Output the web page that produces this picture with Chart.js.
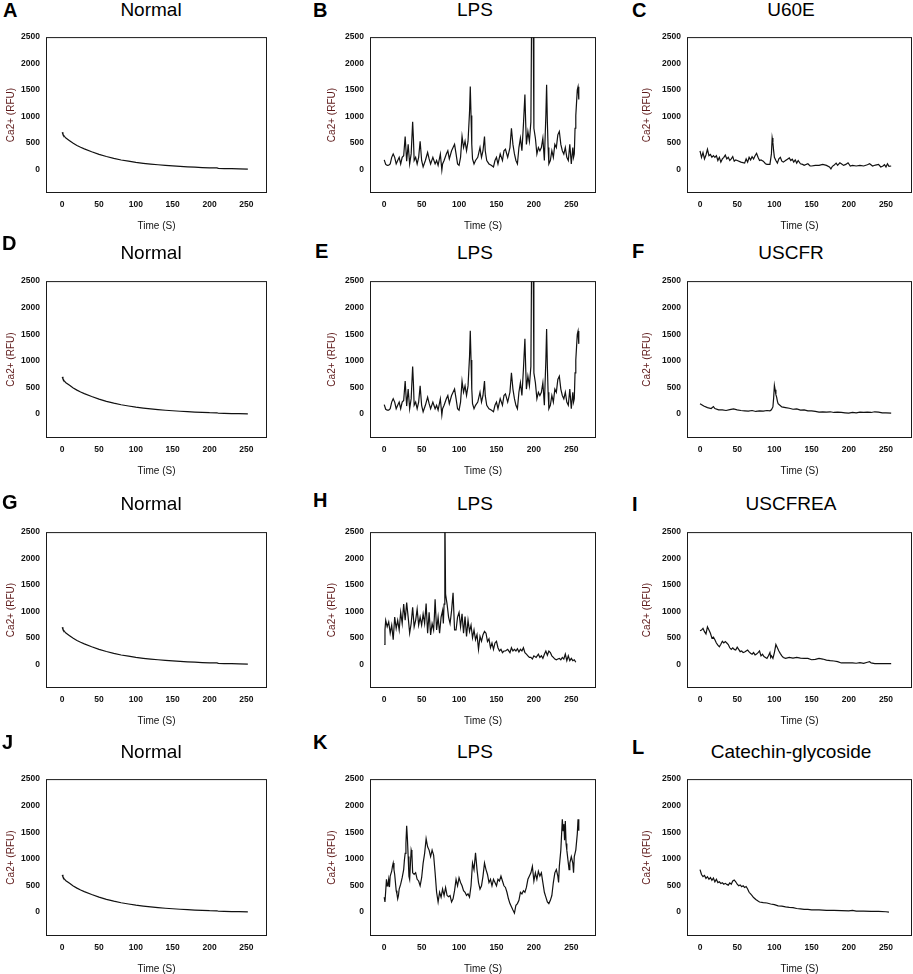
<!DOCTYPE html>
<html>
<head>
<meta charset="utf-8">
<script src="https://cdn.jsdelivr.net/npm/chart.js@4.4.0/dist/chart.umd.min.js"></script>
<style>
  html, body { margin: 0; padding: 0; background: #fff; overflow: hidden; width: 913px; height: 974px; }
  canvas { position: absolute; }
  .letter { position: absolute; font-family: "Liberation Sans", Arial, sans-serif; font-weight: bold; font-size: 20px; line-height: 20px; color: #000; }
  .title { position: absolute; font-family: "Liberation Sans", Arial, sans-serif; font-size: 19px; line-height: 19px; color: #000; transform: translateX(-50%); white-space: nowrap; }
</style>
</head>
<body>
<script>
// tick labels
const xTicks = [0, 50, 100, 150, 200, 250];
const yTicks = [0, 500, 1000, 1500, 2000, 2500];

// Normal (A, D, G, J look the same)
const normalTime = [0, 1, 3, 5, 10, 15, 20, 25, 30, 40, 50, 60, 70, 80, 90, 100, 110, 120, 130, 140, 150, 160, 170, 180, 190, 200, 210, 212, 220, 230, 240, 252];
const normalCa = [700, 660, 620, 590, 540, 490, 450, 415, 385, 330, 280, 240, 205, 175, 152, 130, 112, 97, 85, 72, 62, 53, 45, 38, 32, 26, 24, 15, 12, 10, 8, 3];

// LPS (B and E are the same trace)
const lpsTime = [0, 2, 4, 6, 8, 10, 12, 14, 16, 18, 20, 22, 24, 26, 28, 30, 32, 34, 36, 38, 39, 40, 42, 44, 46, 48, 50, 52, 55, 58, 60, 62, 65, 68, 70, 72, 75, 77, 78, 80, 83, 85, 87, 90, 92, 94, 96, 98, 100, 102, 104, 106, 108, 110, 112, 114, 115, 116, 117, 118, 120, 122, 125, 128, 130, 132, 134, 135, 137, 140, 143, 146, 148, 150, 152, 155, 158, 160, 162, 165, 168, 170, 172, 174, 176, 178, 180, 182, 184, 186, 188, 189, 190, 192, 194, 196, 197, 199, 200, 202, 204, 206, 208, 210, 212, 214, 216, 217, 218, 219, 220, 222, 224, 226, 228, 230, 232, 234, 236, 238, 240, 242, 244, 246, 248, 250, 252, 253, 254, 255, 256, 257, 258, 259, 260];
const lpsCa = [177, 90, 73, 75, 100, 225, 290, 225, 100, 165, 225, 100, 225, 256, 620, 150, 470, 100, 290, 896, 590, 165, 225, 100, 225, 530, 165, 43, 165, 317, 195, 100, 225, 100, 165, 75, 287, -18, 100, 165, 287, 348, 195, 348, 410, 470, 290, 100, 73, 225, 620, 410, 530, 350, 530, 1080, 1567, 1018, 470, 195, 100, 165, 225, 410, 225, 350, 620, 350, 165, 100, 75, 43, 165, 225, 100, 290, 165, 348, 378, 225, 410, 775, 470, 290, 165, 100, 410, 590, 350, 835, 1415, 900, 470, 713, 530, 896, 3000, 3000, 775, 590, 287, 410, 348, 410, 590, 165, 1018, 1597, 896, 410, 100, 165, 350, 225, 470, 410, 650, 713, 470, 350, 287, 410, 225, 165, 470, 100, 410, 225, 290, 775, 1018, 1260, 1500, 1560, 1320];

// U60E
const u60eTime = [0, 2, 4, 6, 8, 10, 12, 14, 16, 18, 20, 22, 24, 26, 28, 30, 32, 34, 36, 38, 40, 42, 44, 46, 48, 50, 55, 60, 62, 64, 66, 68, 70, 72, 74, 76, 78, 80, 82, 85, 88, 90, 94, 96, 97, 98, 99, 100, 102, 104, 106, 108, 110, 112, 115, 118, 120, 122, 124, 126, 128, 130, 132, 135, 138, 140, 145, 148, 150, 155, 160, 165, 170, 174, 176, 178, 180, 183, 185, 188, 190, 193, 196, 199, 202, 205, 210, 215, 220, 225, 228, 232, 236, 240, 243, 246, 248, 250, 252, 254, 257];
const u60eCa = [348, 225, 317, 195, 270, 378, 256, 280, 225, 256, 225, 256, 165, 225, 134, 195, 225, 268, 195, 225, 165, 195, 238, 152, 177, 165, 134, 116, 195, 134, 225, 177, 238, 195, 256, 300, 225, 165, 177, 152, 104, 91, 91, 290, 590, 500, 348, 225, 165, 116, 195, 225, 152, 134, 165, 195, 213, 165, 189, 134, 177, 116, 165, 104, 91, 73, 104, 61, 61, 73, 73, 91, 73, 43, 6, 55, 73, 116, 73, 122, 104, 73, 91, 122, 61, 73, 61, 73, 61, 85, 104, 61, 79, 91, 43, 61, 85, 43, 104, 55, 61];

// USCFR
const uscfrTime = [0, 5, 10, 15, 18, 20, 25, 30, 35, 40, 45, 50, 55, 60, 65, 70, 75, 80, 85, 90, 94, 96, 98, 99, 100, 101, 102, 103, 104, 105, 107, 110, 115, 120, 125, 130, 135, 140, 145, 150, 155, 160, 165, 170, 175, 180, 185, 190, 195, 200, 205, 210, 215, 220, 225, 230, 235, 240, 245, 250, 257];
const uscfrCa = [195, 152, 122, 104, 140, 104, 79, 79, 67, 85, 98, 79, 67, 61, 55, 67, 49, 61, 55, 67, 61, 79, 134, 305, 537, 457, 366, 317, 244, 195, 171, 134, 122, 110, 91, 98, 73, 79, 61, 61, 49, 37, 43, 37, 43, 30, 37, 30, 24, 18, 30, 24, 37, 30, 37, 30, 43, 37, 24, 24, 18];

// LPS (H)
const lpsHTime = [0, 1, 2, 4, 6, 8, 10, 12, 14, 16, 18, 20, 22, 24, 26, 28, 30, 32, 34, 36, 38, 40, 42, 44, 46, 48, 50, 52, 54, 56, 58, 60, 62, 64, 66, 67, 68, 70, 72, 74, 76, 78, 79, 80, 81, 82, 84, 86, 88, 90, 92, 94, 96, 98, 100, 102, 104, 106, 108, 110, 112, 114, 116, 118, 120, 122, 124, 126, 128, 130, 132, 134, 136, 138, 140, 142, 144, 146, 148, 150, 152, 154, 156, 158, 160, 162, 165, 168, 170, 172, 174, 176, 178, 180, 182, 184, 186, 188, 190, 192, 194, 196, 198, 200, 203, 206, 208, 210, 212, 214, 216, 218, 220, 222, 224, 226, 228, 230, 232, 234, 236, 238, 240, 242, 244, 246, 248, 250, 252, 254, 256, 258];
const lpsHCa = [373, 650, 831, 709, 800, 587, 740, 464, 892, 678, 831, 648, 984, 770, 1137, 831, 1167, 892, 587, 770, 1075, 709, 831, 1045, 740, 892, 740, 953, 770, 1150, 587, 984, 556, 770, 648, 892, 1229, 648, 892, 587, 892, 1015, 770, 1137, 3000, 1320, 1137, 892, 770, 1015, 1350, 648, 648, 892, 980, 709, 953, 587, 900, 526, 831, 620, 740, 500, 648, 464, 560, 281, 526, 434, 560, 620, 587, 430, 480, 312, 403, 281, 403, 434, 312, 250, 281, 220, 250, 250, 281, 220, 312, 250, 281, 250, 293, 232, 281, 250, 312, 220, 190, 159, 128, 128, 98, 159, 128, 190, 128, 159, 110, 190, 250, 171, 250, 220, 159, 128, 98, 85, 98, 110, 85, 128, 98, 190, 67, 159, 67, 110, 67, 85, 37];

// USCFREA
const uscfreaTime = [0, 2, 4, 6, 8, 10, 12, 14, 16, 18, 20, 22, 24, 26, 28, 30, 32, 34, 36, 38, 40, 42, 44, 46, 48, 50, 52, 54, 56, 58, 60, 62, 64, 66, 68, 70, 72, 74, 76, 78, 80, 82, 84, 86, 88, 90, 92, 94, 95, 96, 98, 100, 102, 104, 106, 108, 110, 112, 115, 120, 125, 130, 135, 140, 145, 150, 155, 160, 165, 170, 175, 180, 185, 190, 195, 200, 205, 210, 215, 220, 225, 228, 230, 235, 240, 245, 250, 257];
const uscfreaCa = [634, 646, 677, 616, 573, 707, 646, 585, 494, 512, 463, 402, 360, 329, 378, 433, 402, 427, 402, 372, 311, 280, 311, 280, 268, 323, 280, 238, 250, 220, 232, 250, 268, 232, 207, 189, 220, 177, 195, 220, 250, 159, 189, 146, 128, 110, 159, 220, 128, 159, 110, 220, 372, 311, 250, 201, 159, 128, 110, 128, 116, 128, 116, 110, 110, 85, 91, 110, 98, 79, 67, 61, 49, 24, 24, 24, 24, 18, 30, 18, 37, 49, 24, 12, 12, 12, 12, 12];

// LPS (K)
const lpsKTime = [0, 1, 2, 3, 4, 5, 6, 7, 8, 10, 11, 12, 13, 14, 15, 16, 17, 18, 19, 20, 22, 24, 26, 27, 28, 29, 30, 31, 32, 33, 34, 35, 36, 37, 38, 40, 42, 44, 46, 48, 50, 52, 54, 56, 58, 60, 62, 64, 66, 68, 70, 72, 74, 76, 78, 80, 82, 84, 86, 88, 90, 92, 94, 96, 98, 100, 102, 104, 106, 108, 110, 112, 114, 116, 118, 120, 122, 124, 126, 128, 130, 132, 134, 136, 138, 140, 142, 144, 146, 148, 150, 152, 154, 156, 158, 160, 162, 164, 166, 168, 170, 172, 174, 176, 178, 180, 182, 184, 186, 188, 190, 192, 194, 196, 198, 200, 202, 204, 206, 208, 210, 212, 214, 216, 218, 220, 222, 224, 226, 228, 230, 232, 233, 234, 236, 238, 239, 240, 241, 242, 243, 244, 246, 247, 248, 250, 252, 253, 254, 256, 258, 259, 260];
const lpsKCa = [280, 189, 402, 616, 494, 520, 616, 470, 677, 768, 860, 921, 800, 707, 555, 402, 341, 250, 311, 433, 524, 646, 799, 982, 1104, 1287, 1622, 1378, 1043, 677, 616, 900, 1165, 1100, 738, 707, 740, 616, 585, 494, 646, 921, 1104, 1378, 1226, 1165, 1043, 1165, 1073, 738, 372, 189, 372, 280, 433, 311, 463, 311, 290, 311, 189, 250, 402, 616, 494, 646, 555, 494, 402, 372, 311, 341, 280, 494, 921, 799, 1116, 799, 555, 433, 494, 677, 921, 799, 707, 555, 616, 494, 616, 555, 494, 616, 585, 677, 585, 494, 463, 372, 250, 159, 98, 37, -20, 128, 159, 220, 372, 341, 402, 372, 463, 616, 677, 738, 860, 585, 738, 616, 768, 677, 738, 555, 372, 280, 189, 159, 220, 311, 555, 738, 799, 677, 555, 860, 1165, 1744, 1531, 1653, 1350, 1714, 1287, 1165, 921, 799, 921, 1043, 921, 738, 1043, 1165, 1470, 1744, 1530];

// Catechin-glycoside
const catechinTime = [0, 2, 4, 6, 8, 10, 12, 14, 16, 18, 20, 22, 24, 26, 28, 30, 32, 34, 36, 38, 40, 42, 44, 46, 48, 50, 52, 54, 56, 58, 60, 62, 64, 66, 68, 70, 72, 75, 78, 80, 85, 90, 95, 100, 105, 110, 115, 120, 125, 130, 135, 140, 145, 150, 160, 170, 180, 190, 200, 205, 210, 220, 230, 240, 250, 254];
const catechinCa = [799, 707, 665, 690, 634, 665, 616, 650, 598, 640, 567, 616, 555, 570, 537, 550, 524, 540, 520, 506, 550, 524, 585, 604, 570, 524, 495, 510, 476, 495, 463, 480, 433, 372, 341, 311, 274, 238, 207, 189, 177, 171, 152, 140, 116, 110, 98, 90, 85, 67, 60, 49, 49, 43, 43, 30, 30, 26, 24, 30, 18, 18, 12, 12, 6, 0];

// layout of the 4 x 3 grid
const colLeft = [46, 370, 687];
const colRight = [267, 596, 912];
const rowTop = [32, 276, 527, 774];
const rowBottom = [193, 438, 688, 936];
const xRange = [[-22, 278], [-19, 283], [-17.5, 285]];
const yTitlePad = [5, 2, 0];
const titleCenter = [151, 475, 791];
const titleCap = [2, 245, 496, 744];

const panels = [
  { letter: 'A', title: 'Normal', t: normalTime, v: normalCa, row: 0, col: 0, lx: 3, ly: 3 },
  { letter: 'B', title: 'LPS', t: lpsTime, v: lpsCa, row: 0, col: 1, lx: 313, ly: 3 },
  { letter: 'C', title: 'U60E', t: u60eTime, v: u60eCa, row: 0, col: 2, lx: 632, ly: 3 },
  { letter: 'D', title: 'Normal', t: normalTime, v: normalCa, row: 1, col: 0, lx: 2, ly: 236 },
  { letter: 'E', title: 'LPS', t: lpsTime, v: lpsCa, row: 1, col: 1, lx: 315, ly: 244 },
  { letter: 'F', title: 'USCFR', t: uscfrTime, v: uscfrCa, row: 1, col: 2, lx: 632, ly: 244 },
  { letter: 'G', title: 'Normal', t: normalTime, v: normalCa, row: 2, col: 0, lx: 2, ly: 495 },
  { letter: 'H', title: 'LPS', t: lpsHTime, v: lpsHCa, row: 2, col: 1, lx: 313, ly: 493 },
  { letter: 'I', title: 'USCFREA', t: uscfreaTime, v: uscfreaCa, row: 2, col: 2, lx: 632, ly: 497 },
  { letter: 'J', title: 'Normal', t: normalTime, v: normalCa, row: 3, col: 0, lx: 2, ly: 735 },
  { letter: 'K', title: 'LPS', t: lpsKTime, v: lpsKCa, row: 3, col: 1, lx: 313, ly: 735 },
  { letter: 'L', title: 'Catechin-glycoside', t: catechinTime, v: catechinCa, row: 3, col: 2, lx: 632, ly: 740 },
];

Chart.defaults.font.family = '"Liberation Sans", Arial, sans-serif';

// closed box round the plot area
const frame = {
  id: 'frame',
  afterDatasetsDraw(chart) {
    const { ctx, chartArea: a } = chart;
    ctx.save();
    ctx.strokeStyle = '#1a1a1a';
    ctx.lineWidth = 1;
    ctx.strokeRect(a.left + 0.5, a.top + 0.5, a.right - a.left - 1, a.bottom - a.top - 1);
    ctx.restore();
  }
};

const L = 46, T = 6, R = 3, B = 40;

panels.forEach(p => {
  const pw = colRight[p.col] - colLeft[p.col];
  const ph = rowBottom[p.row] - rowTop[p.row];

  const letter = document.createElement('div');
  letter.className = 'letter';
  letter.textContent = p.letter;
  letter.style.left = p.lx + 'px';
  letter.style.top = (p.ly - 3) + 'px';
  document.body.appendChild(letter);

  const title = document.createElement('div');
  title.className = 'title';
  title.textContent = p.title;
  title.style.left = titleCenter[p.col] + 'px';
  title.style.top = (titleCap[p.row] - 2) + 'px';
  document.body.appendChild(title);

  const canvas = document.createElement('canvas');
  canvas.width = pw + L + R;
  canvas.height = ph + T + B;
  canvas.style.left = (colLeft[p.col] - L) + 'px';
  canvas.style.top = (rowTop[p.row] - T) + 'px';
  document.body.appendChild(canvas);

  new Chart(canvas.getContext('2d'), {
    type: 'line',
    data: {
      datasets: [{
        data: p.t.map((t, i) => ({ x: t, y: p.v[i] })),
        borderColor: '#111',
        borderWidth: 1.2,
        pointRadius: 0,
        tension: 0,
        fill: false,
      }],
    },
    options: {
      responsive: false,
      animation: false,
      devicePixelRatio: 1,
      layout: { padding: { top: T, right: R, left: 0, bottom: 0 } },
      plugins: { legend: { display: false }, tooltip: { enabled: false } },
      scales: {
        x: {
          type: 'linear',
          min: xRange[p.col][0],
          max: xRange[p.col][1],
          afterBuildTicks: s => { s.ticks = xTicks.map(v => ({ value: v })); },
          afterFit: s => { s.height = B; },
          grid: { display: false, drawTicks: false },
          border: { display: false },
          ticks: { autoSkip: false, maxRotation: 0, padding: 7, color: '#111', font: { size: 8.5, weight: 'bold' }, callback: v => String(v) },
          title: { display: true, text: 'Time (S)', color: '#111', padding: { top: 0, bottom: 1 }, font: { size: 10 } },
        },
        y: {
          min: -450,
          max: 2500,
          afterBuildTicks: s => { s.ticks = yTicks.map(v => ({ value: v })); },
          afterFit: s => { s.width = L; },
          grid: { display: false, drawTicks: false },
          border: { display: false },
          ticks: { padding: 6, color: '#111', font: { size: 8.5, weight: 'bold' }, callback: v => String(v) },
          title: { display: true, text: 'Ca2+ (RFU)', color: '#5e1a1a', padding: { top: yTitlePad[p.col], bottom: 0 }, font: { size: 10 } },
        },
      },
    },
    plugins: [frame],
  });
});
</script>
</body>
</html>
